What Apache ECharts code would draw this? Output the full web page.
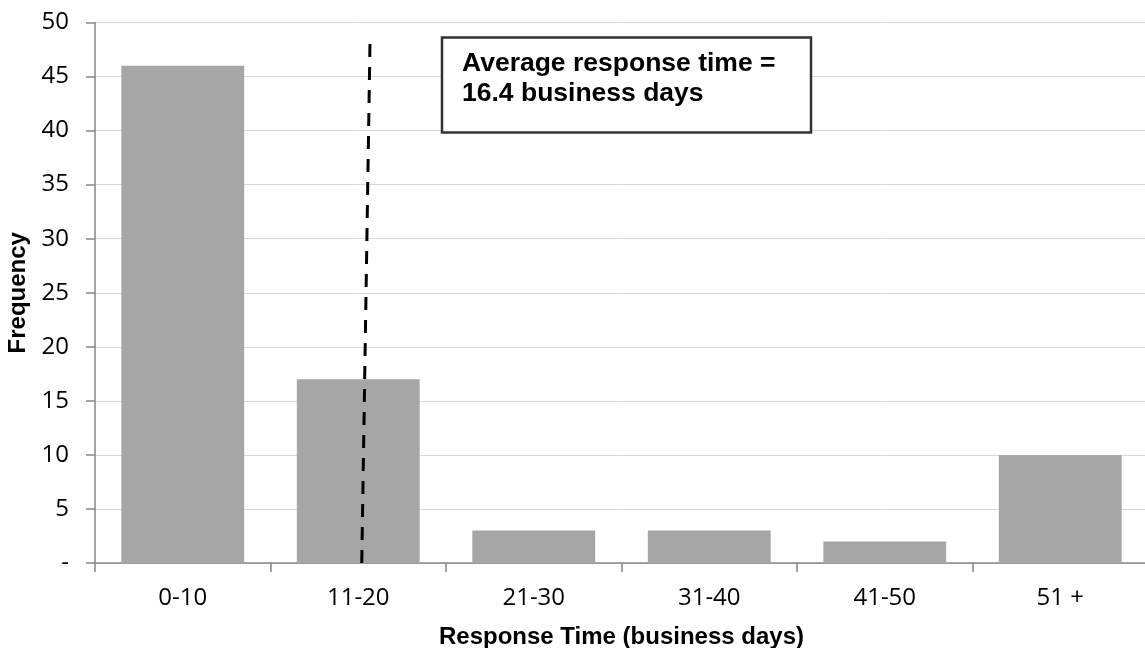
<!DOCTYPE html>
<html>
<head>
<meta charset="utf-8">
<script src="https://cdn.jsdelivr.net/npm/echarts@6/dist/echarts.min.js"></script>
<style>
html,body{margin:0;padding:0;background:#fff;overflow:hidden;}
#chart{width:1145px;height:648px;}
</style>
</head>
<body>
<div id="chart"></div>
<script>
var categories = ['0-10', '11-20', '21-30', '31-40', '41-50', '51 +'];
var frequency = [46, 17, 3, 3, 2, 10];
var yTicks = [0, 5, 10, 15, 20, 25, 30, 35, 40, 45, 50];
// average marker (category-index space: 0..6), drawn bottom to top
var avgLineX = [1.52, 1.567];
var avgLineY = [0, 48.2];
var annotationLines = ['Average response time =', '16.4 business days'];

var chart = echarts.init(document.getElementById('chart'));
var avgData = avgLineX.map(function (x, i) { return [x, avgLineY[i]]; });

var option = {
  animation: false,
  backgroundColor: '#ffffff',
  grid: { left: 95, top: 22.5, width: 1053, height: 540.5, containLabel: false, outerBoundsMode: 'none' },
  xAxis: [{
    type: 'category',
    data: categories,
    boundaryGap: true,
    name: 'Response Time (business days)',
    nameLocation: 'middle',
    nameGap: 62,
    nameTextStyle: { fontFamily: 'Liberation Sans', fontWeight: 'bold', fontSize: 24, color: '#000' },
    axisLine: { lineStyle: { color: '#868686', width: 1.5 } },
    axisTick: { show: true, length: 9, inside: false, lineStyle: { color: '#868686', width: 1.5 } },
    axisLabel: { margin: 23, fontFamily: 'Open Sans', fontSize: 24, color: '#000' },
    splitLine: { show: false }
  }, {
    type: 'value',
    min: 0, max: 6,
    show: false
  }],
  yAxis: {
    type: 'value',
    min: 0, max: 50, interval: 5,
    name: 'Frequency',
    nameLocation: 'middle',
    nameGap: 56,
    nameRotate: 90,
    nameTextStyle: { fontFamily: 'Liberation Sans', fontWeight: 'bold', fontSize: 24, color: '#000' },
    axisLine: { show: true, lineStyle: { color: '#868686', width: 1.5 } },
    axisTick: { show: true, length: 9, lineStyle: { color: '#868686', width: 1.5 } },
    axisLabel: {
      margin: 26, fontFamily: 'Open Sans', fontSize: 24, color: '#000',
      formatter: function (v) { return v === 0 ? '-' : String(v); }
    },
    splitLine: { show: true, lineStyle: { color: '#d9d9d9', width: 1 } }
  },
  series: [{
    type: 'bar',
    data: frequency,
    xAxisIndex: 0,
    barCategoryGap: '30%',
    itemStyle: { color: '#a6a6a6' },
    z: 2
  }, {
    type: 'line',
    xAxisIndex: 1,
    data: avgData,
    symbol: 'none',
    lineStyle: { color: '#000', width: 3, type: [13, 10] },
    z: 5
  }],
  graphic: [{
    type: 'rect',
    shape: { x: 442, y: 37.5, width: 369, height: 95 },
    style: { fill: '#fff', stroke: '#333', lineWidth: 2.5 },
    z: 10
  }, {
    type: 'text',
    x: 462, y: 64,
    style: { text: annotationLines[0], font: 'bold 26.5px "Liberation Sans"', fill: '#000', verticalAlign: 'middle' },
    z: 11
  }, {
    type: 'text',
    x: 462, y: 94,
    style: { text: annotationLines[1], font: 'bold 26.5px "Liberation Sans"', fill: '#000', verticalAlign: 'middle' },
    z: 11
  }]
};
chart.setOption(option);
</script>
</body>
</html>
